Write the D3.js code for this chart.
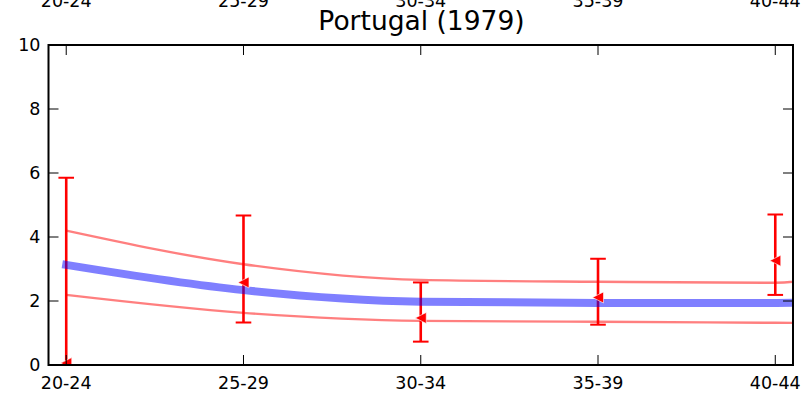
<!DOCTYPE html>
<html><head><meta charset="utf-8">
<script src="https://cdn.jsdelivr.net/npm/d3@7"></script>
<style>body{margin:0;background:#fff}svg{display:block}text{font-family:"DejaVu Sans",sans-serif}</style>
</head><body>
<svg id="c" width="807" height="396"></svg>
<script>
// ---- data ----
const categories = ["20-24","25-29","30-34","35-39","40-44"];
const curveCats = ["20-24","25-29","30-34","35-39","40-44","45-49"];
const fitted   = [3.13, 2.34, 1.98, 1.94, 1.94, 1.97];
const upperBand= [4.20, 3.15, 2.66, 2.60, 2.57, 4.60];
const lowerBand= [2.19, 1.63, 1.38, 1.35, 1.32, 1.28];
const observed = [0.06, 2.58, 1.47, 2.11, 3.26];
const errLow   = [-0.6, 1.33, 0.73, 1.26, 2.19];
const errHigh  = [5.85, 4.67, 2.58, 3.32, 4.70];
const yTicks   = [0, 2, 4, 6, 8, 10];
const title    = "Portugal (1979)";

const svg = d3.select("#c");
const L = 48.5, R = 793, T = 45, B = 365;
const x = d3.scaleLinear().domain([-0.1, 4.1]).range([L, R]);
const y = d3.scaleLinear().domain([0, 10]).range([B, T]);
const xi = c => x(curveCats.indexOf(c));

svg.append("defs").append("clipPath").attr("id","clip")
  .append("rect").attr("x",L).attr("y",T).attr("width",R-L).attr("height",B-T);

const plot = svg.append("g").attr("clip-path","url(#clip)");

// error bars
const eb = plot.append("g");
categories.forEach((c,i)=>{
  const cx = xi(c);
  eb.append("line").attr("x1",cx).attr("x2",cx).attr("y1",y(errLow[i])).attr("y2",y(errHigh[i]))
    .attr("stroke","#ff0000").attr("stroke-width",2.6);
  [errLow[i], errHigh[i]].forEach(v=>{
    eb.append("line").attr("x1",cx-7.8).attr("x2",cx+7.8).attr("y1",y(v)).attr("y2",y(v))
      .attr("stroke","#ff0000").attr("stroke-width",2);
  });
});

const line = vals => d3.line().curve(d3.curveMonotoneX)
  .x((d,i)=>xi(curveCats[i])).y(d=>y(d))(vals);

plot.append("path").attr("d",line(upperBand)).attr("fill","none")
  .attr("stroke","#ff0000").attr("stroke-opacity",0.5).attr("stroke-width",2.4);
plot.append("path").attr("d",line(lowerBand)).attr("fill","none")
  .attr("stroke","#ff0000").attr("stroke-opacity",0.5).attr("stroke-width",2.4);
plot.append("path").attr("d",line(fitted)).attr("fill","none")
  .attr("stroke","#0000ff").attr("stroke-opacity",0.5).attr("stroke-width",8)
  .attr("stroke-linecap","square");

// markers
categories.forEach((c,i)=>{
  const cx = xi(c), cy = y(observed[i]), s = 5.5;
  plot.append("path").attr("d",`M${cx-s},${cy}L${cx+s},${cy-s}L${cx+s},${cy+s}Z`)
    .attr("fill","#ff0000").attr("stroke","#fff").attr("stroke-width",0.6);
});

// ticks
const ax = svg.append("g").attr("stroke","#000").attr("stroke-width",1);
categories.forEach(c=>{
  const cx = xi(c);
  ax.append("line").attr("x1",cx).attr("x2",cx).attr("y1",B).attr("y2",B-10);
  ax.append("line").attr("x1",cx).attr("x2",cx).attr("y1",T).attr("y2",T+10);
});
yTicks.forEach(v=>{
  ax.append("line").attr("x1",L).attr("x2",L+10).attr("y1",y(v)).attr("y2",y(v));
  ax.append("line").attr("x1",R).attr("x2",R-10).attr("y1",y(v)).attr("y2",y(v));
});

// frame
svg.append("rect").attr("x",L).attr("y",T).attr("width",R-L).attr("height",B-T)
  .attr("fill","none").attr("stroke","#000").attr("stroke-width",2);

// labels
const fs = 17.5;
categories.forEach(c=>{
  svg.append("text").attr("x",xi(c)).attr("y",389).attr("text-anchor","middle")
    .attr("font-size",fs).text(c);
  svg.append("text").attr("x",xi(c)).attr("y",7.3).attr("text-anchor","middle")
    .attr("font-size",fs).text(c);
});
yTicks.forEach(v=>{
  svg.append("text").attr("x",L-8).attr("y",y(v)).attr("dy","0.36em").attr("text-anchor","end")
    .attr("font-size",fs).text(v);
});
svg.append("text").attr("x",421.5).attr("y",30).attr("text-anchor","middle")
  .attr("font-size",26.5).text(title);
</script>
</body></html>
